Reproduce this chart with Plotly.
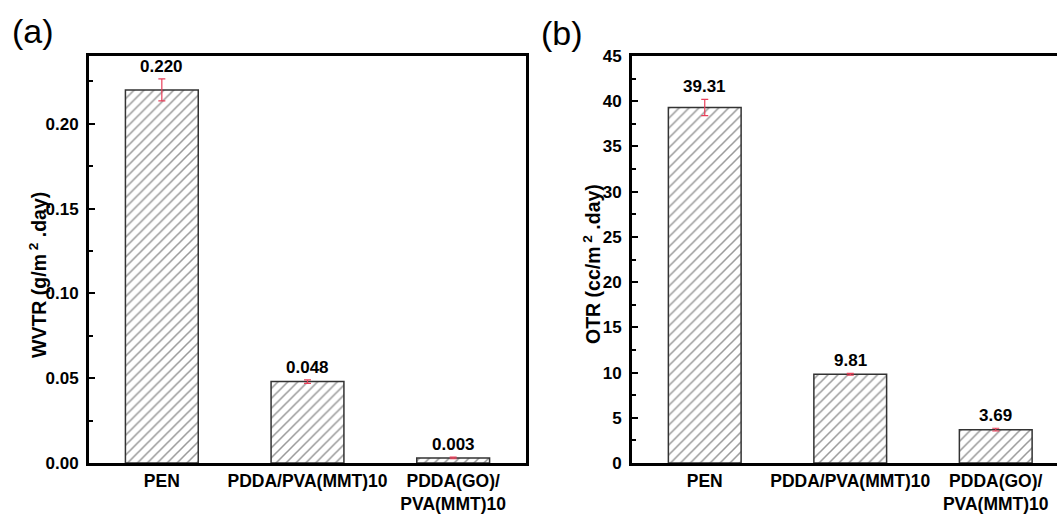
import plotly.graph_objects as go

# ---- data ----
categories = ["PEN", "PDDA/PVA(MMT)10", "PDDA(GO)/<br>PVA(MMT)10"]
wvtr_values = [0.220, 0.048, 0.003]
wvtr_errors = [0.0065, 0.0010, 0.0005]
wvtr_labels = ["0.220", "0.048", "0.003"]
otr_values = [39.31, 9.81, 3.69]
otr_errors = [0.90, 0.10, 0.15]
otr_labels = ["39.31", "9.81", "3.69"]

W, H = 1057, 517
FONT = "Liberation Sans, Arial, sans-serif"
ERR_COLOR = "#e8405a"

fig = go.Figure()

def bar_trace(vals, errs, xa, ya):
    return go.Bar(
        x=categories, y=vals, width=0.5, xaxis=xa, yaxis=ya,
        marker=dict(color="white",
                    line=dict(color="#333333", width=1.5),
                    pattern=dict(shape="/", fgcolor="#333333", bgcolor="white",
                                 size=7, solidity=0.22)),
        error_y=dict(type="data", array=errs, color=ERR_COLOR, thickness=1.2, width=3.5),
        showlegend=False, hoverinfo="skip",
    )

fig.add_trace(bar_trace(wvtr_values, wvtr_errors, "x", "y"))
fig.add_trace(bar_trace(otr_values, otr_errors, "x2", "y2"))

y_dom = [54 / H, (H - 56) / H]
axis_common = dict(showline=True, linewidth=3, linecolor="black", showgrid=False,
                   zeroline=False, automargin=False)
tickfont = dict(family=FONT, size=17, color="black", weight="bold")
xtickfont = dict(family=FONT, size=17.5, color="black", weight="bold")

fig.update_layout(
    width=W, height=H,
    margin=dict(l=0, r=0, t=0, b=0, autoexpand=False),
    paper_bgcolor="white", plot_bgcolor="white",
    bargap=0.5,
    xaxis=dict(domain=[89 / W, 526 / W], range=[-0.5, 2.5], mirror=True, ticks="",
               tickfont=xtickfont, anchor="y", **axis_common),
    yaxis=dict(domain=y_dom, range=[0, 0.24], dtick=0.05, tickformat=".2f",
               mirror=True, ticks="inside", ticklen=6, tickwidth=2, tickcolor="black",
               minor=dict(ticks="inside", ticklen=4, tickwidth=2, dtick=0.025,
                          tickcolor="black"),
               tickfont=tickfont, ticklabelstandoff=4, anchor="x", **axis_common),
    xaxis2=dict(domain=[632 / W, 1.0], range=[-0.5, 2.421], mirror=True, ticks="",
                tickfont=xtickfont, anchor="y2", **axis_common),
    yaxis2=dict(domain=y_dom, range=[0, 45], dtick=5,
                mirror=False, ticks="inside", ticklen=6, tickwidth=2, tickcolor="black",
                minor=dict(ticks="inside", ticklen=4, tickwidth=2, dtick=2.5,
                           tickcolor="black"),
                tickfont=tickfont, ticklabelstandoff=4, anchor="x2", **axis_common),
)

ann = []
for c, v, e, t in zip(categories, wvtr_values, wvtr_errors, wvtr_labels):
    ann.append(dict(x=c, y=v + e, xref="x", yref="y", text=t, showarrow=False,
                    yanchor="bottom", yshift=1,
                    font=dict(family=FONT, size=17, color="black", weight="bold")))
for c, v, e, t in zip(categories, otr_values, otr_errors, otr_labels):
    ann.append(dict(x=c, y=v + e, xref="x2", yref="y2", text=t, showarrow=False,
                    yanchor="bottom", yshift=1,
                    font=dict(family=FONT, size=17, color="black", weight="bold")))

# axis titles
ann.append(dict(x=38 / W, y=1 - 275 / H, xref="paper", yref="paper",
                text="WVTR (g/m<sup> 2</sup> .day)", textangle=-90, showarrow=False,
                xanchor="center", yanchor="middle",
                font=dict(family=FONT, size=19.5, color="black", weight="bold")))
ann.append(dict(x=592 / W, y=1 - 264 / H, xref="paper", yref="paper",
                text="OTR (cc/m<sup> 2</sup> .day)", textangle=-90, showarrow=False,
                xanchor="center", yanchor="middle",
                font=dict(family=FONT, size=19.5, color="black", weight="bold")))
# panel labels
ann.append(dict(x=10 / W, y=1 - 31 / H, xref="paper", yref="paper", text="(a)",
                showarrow=False, xanchor="left", yanchor="middle",
                font=dict(family=FONT, size=34, color="black")))
ann.append(dict(x=539 / W, y=1 - 33 / H, xref="paper", yref="paper", text="(b)",
                showarrow=False, xanchor="left", yanchor="middle",
                font=dict(family=FONT, size=34, color="black")))

fig.update_layout(annotations=ann)
fig.write_html("out.html",
               config={"displayModeBar": False, "staticPlot": True},
               post_script="document.body.style.margin='0px';"
                           "document.body.style.overflow='hidden';")
